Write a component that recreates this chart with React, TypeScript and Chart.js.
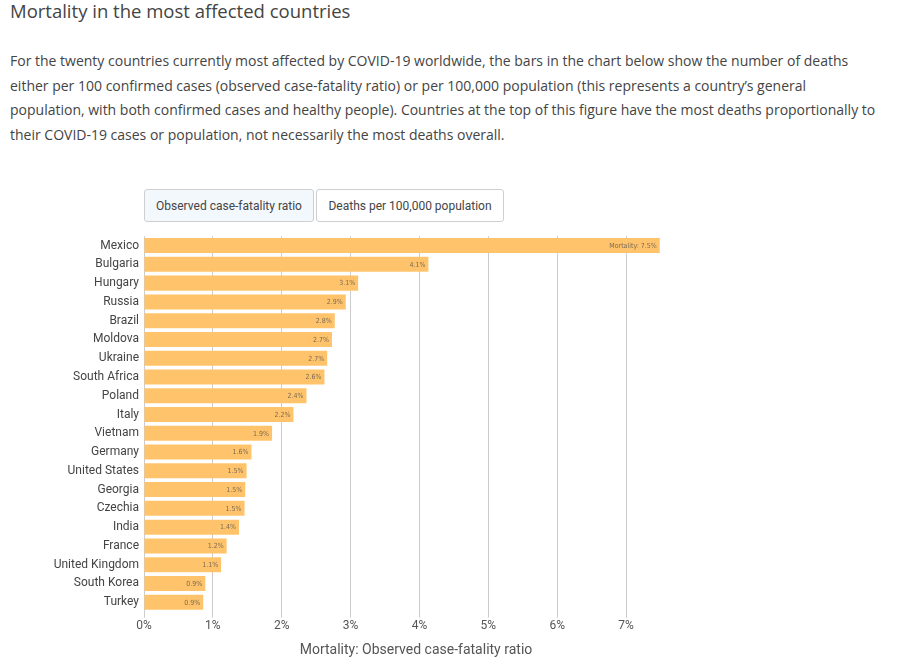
import React, { useEffect, useRef } from "react";
import { Chart, registerables } from "chart.js";

Chart.register(...registerables);

const countries = [
  "Mexico", "Bulgaria", "Hungary", "Russia", "Brazil", "Moldova", "Ukraine",
  "South Africa", "Poland", "Italy", "Vietnam", "Germany", "United States",
  "Georgia", "Czechia", "India", "France", "United Kingdom", "South Korea", "Turkey",
];
const caseFatality = [
  7.49, 4.13, 3.11, 2.93, 2.77, 2.73, 2.66, 2.62, 2.36, 2.17,
  1.86, 1.56, 1.49, 1.47, 1.46, 1.38, 1.2, 1.12, 0.89, 0.86,
];
const xTickValues = [0, 1, 2, 3, 4, 5, 6, 7];
const axisTitle = "Mortality: Observed case-fatality ratio";
const tabLabels = ["Observed case-fatality ratio", "Deaths per 100,000 population"];

const CHART_FONT = "Roboto, 'Liberation Sans', sans-serif";
const PAGE_FONT = "'Open Sans', 'Noto Sans', sans-serif";

const barLabelPlugin = {
  id: "barLabels",
  afterDatasetsDraw(chart: any) {
    const ctx = chart.ctx;
    const meta = chart.getDatasetMeta(0);
    ctx.save();
    ctx.font = `7px 'DejaVu Sans Condensed', ${CHART_FONT}`;
    ctx.fillStyle = "#7a6a55";
    ctx.textAlign = "right";
    ctx.textBaseline = "middle";
    meta.data.forEach((bar: any, i: number) => {
      const v = caseFatality[i];
      const txt = (i === 0 ? "Mortality: " : "") + v.toFixed(1) + "%";
      ctx.fillText(txt, bar.x - 3, bar.y + 0.5);
    });
    ctx.restore();
  },
};

function BarChart() {
  const ref = useRef<HTMLCanvasElement | null>(null);
  useEffect(() => {
    if (!ref.current) return;
    const chart = new Chart(ref.current, {
      type: "bar",
      data: {
        labels: countries,
        datasets: [
          {
            data: caseFatality,
            backgroundColor: "#ffc46b",
            borderWidth: 0,
            barPercentage: 0.8,
            categoryPercentage: 1,
          },
        ],
      },
      options: {
        indexAxis: "y",
        animation: false,
        responsive: false,
        maintainAspectRatio: false,
        layout: { padding: { top: 3, right: 231, left: 0, bottom: 0 } },
        plugins: { legend: { display: false }, tooltip: { enabled: false } },
        scales: {
          x: {
            type: "linear",
            min: 0,
            max: 7.9,
            afterBuildTicks(scale: any) {
              scale.ticks = xTickValues.map((v) => ({ value: v }));
            },
            grid: { color: "#cccccc", drawTicks: true, tickLength: 6, lineWidth: 1 },
            border: { display: false },
            ticks: {
              padding: 1.6,
              color: "#555",
              font: { family: CHART_FONT, size: 12 },
              callback: (v: any) => v + "%",
              maxRotation: 0,
            },
            title: {
              display: true,
              text: axisTitle,
              color: "#555",
              font: { family: CHART_FONT, size: 14 },
              padding: { top: 7, bottom: 1 },
            },
          },
          y: {
            afterFit(scale: any) {
              scale.width = 144;
            },
            grid: { display: false, drawTicks: false },
            border: { display: false },
            ticks: {
              padding: 5,
              color: "#444",
              font: { family: CHART_FONT, size: 12 },
              autoSkip: false,
            },
          },
        },
      },
      plugins: [barLabelPlugin],
    });
    return () => chart.destroy();
  }, []);
  return (
    <canvas
      ref={ref}
      width={919}
      height={436}
      style={{ position: "absolute", left: 0, top: 224, width: 919, height: 436 }}
    />
  );
}

export default function App() {
  const tabBase: React.CSSProperties = {
    position: "absolute",
    top: 189,
    height: 33,
    boxSizing: "border-box",
    border: "1px solid #cfcfcf",
    borderRadius: 3,
    fontFamily: CHART_FONT,
    fontSize: 12,
    color: "#444",
    display: "flex",
    alignItems: "center",
    justifyContent: "center",
  };
  return (
    <div style={{ position: "absolute", left: 0, top: 0, width: 919, height: 660, background: "#fff", overflow: "hidden" }}>
      <div
        style={{
          position: "absolute",
          left: 10,
          top: -1,
          fontFamily: PAGE_FONT,
          fontSize: 18.5,
          color: "#444",
          lineHeight: "24px",
          whiteSpace: "nowrap",
        }}
      >
        Mortality in the most affected countries
      </div>
      <div
        style={{
          position: "absolute",
          left: 10,
          top: 49,
          width: 909,
          fontFamily: PAGE_FONT,
          fontSize: 14,
          color: "#444",
          lineHeight: "24.5px",
        }}
      >
        For the twenty countries currently most affected by COVID-19 worldwide, the bars in the chart below show the number of deaths
        <br />
        either per 100 confirmed cases (observed case-fatality ratio) or per 100,000 population (this represents a country’s general
        <br />
        population, with both confirmed cases and healthy people). Countries at the top of this figure have the most deaths proportionally to
        <br />
        their COVID-19 cases or population, not necessarily the most deaths overall.
      </div>
      <div style={{ ...tabBase, left: 144, width: 170, background: "#f3f8fc" }}>{tabLabels[0]}</div>
      <div style={{ ...tabBase, left: 316, width: 188, background: "#fff" }}>{tabLabels[1]}</div>
      <BarChart />
    </div>
  );
}
